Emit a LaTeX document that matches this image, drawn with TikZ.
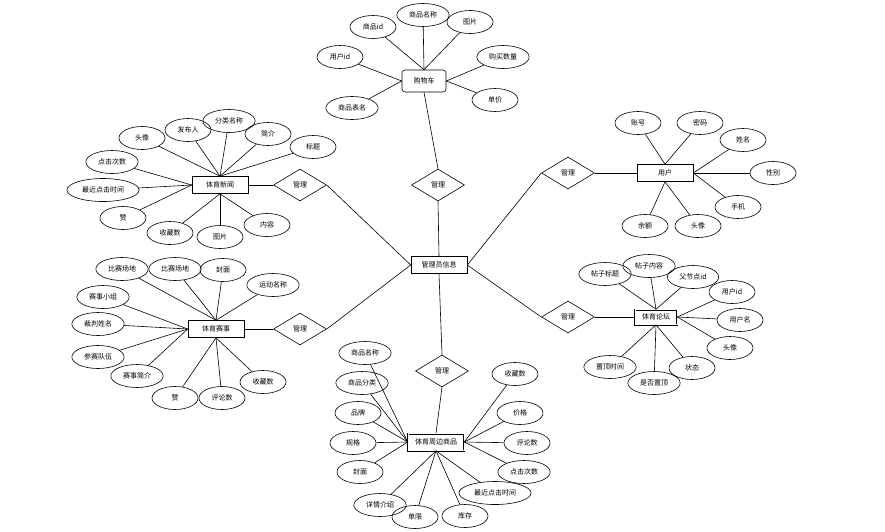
\documentclass[tikz,border=0pt]{standalone}
\usepackage{fontspec}
\newfontfamily\cjk{Noto Sans CJK SC}
\usetikzlibrary{shapes.geometric}

\tikzset{
  lbl/.style={font=\cjk\fontsize{7}{8}\selectfont},
  ent/.style={lbl, draw, rectangle, minimum width=56pt, minimum height=17pt, inner sep=1pt},
  attr/.style={lbl, draw, ellipse, minimum width=46pt, minimum height=23pt, inner xsep=4.5pt, inner ysep=1pt},
  rel/.style={lbl, draw, diamond, minimum width=53pt, minimum height=32pt, inner sep=0pt},
}

\begin{document}
\begin{tikzpicture}[x=1pt, y=-1pt, line width=0.6pt]
    \useasboundingbox (0,0) rectangle (885,531);
    % ---- entities and the central node
    \node[ent] (admin) at (439,265) {管理员信息};
    \node[ent, rounded corners=3pt, minimum width=44pt, minimum height=22pt] (cart) at (424,81) {购物车};
    \node[ent] (news) at (220,185) {体育新闻};
    \node[ent] (match) at (216,329) {体育赛事};
    \node[ent, double, double distance=0.8pt] (goods) at (436,442) {体育周边商品};
    \node[ent] (user) at (665,173) {用户};
    \node[ent, double, double distance=0.8pt, minimum width=42pt, minimum height=15pt] (forum) at (656,317) {体育论坛};
    % ---- relations
    \node[rel] (dcart) at (438,185) {管理};
    \node[rel] (dnews) at (300,185) {管理};
    \node[rel] (dmatch) at (300,329) {管理};
    \node[rel] (dgoods) at (442,371) {管理};
    \node[rel] (duser) at (568,173) {管理};
    \node[rel] (dforum) at (568,317) {管理};
    \draw (cart.south) -- (dcart.north);
    \draw (dcart.south) -- (admin.north);
    \draw (news.east) -- (dnews.west);
    \draw (dnews.east) -- (admin.west);
    \draw (match.east) -- (dmatch.west);
    \draw (dmatch.east) -- (admin.west);
    \draw (admin.south) -- (dgoods.north);
    \draw (dgoods.south) -- (goods.north);
    \draw (admin.east) -- (duser.west);
    \draw (duser.east) -- (user.west);
    \draw (admin.east) -- (dforum.west);
    \draw (dforum.east) -- (forum.west);
    % ---- cart attributes
    \node[attr] (c1) at (373,27) {商品id};
    \node[attr] (c2) at (423,15) {商品名称};
    \node[attr] (c3) at (470,22) {图片};
    \node[attr] (c4) at (340,57) {用户id};
    \node[attr] (c5) at (352,108) {商品表名};
    \node[attr] (c6) at (503,57) {购买数量};
    \node[attr] (c7) at (495,100) {单价};
    \foreach \a in {c1,c2,c3} \draw (cart.north) -- (\a);
    \foreach \a in {c4,c5} \draw (cart.west) -- (\a);
    \foreach \a in {c6,c7} \draw (cart.east) -- (\a);
    % ---- news attributes
    \node[attr] (n1) at (142,138) {头像};
    \node[attr] (n2) at (188,130) {发布人};
    \node[attr] (n3) at (229,121) {分类名称};
    \node[attr] (n4) at (268,134) {简介};
    \node[attr] (n5) at (313,147) {标题};
    \node[attr] (n6) at (112,162) {点击次数};
    \node[attr] (n7) at (103,190) {最近点击时间};
    \node[attr] (n8) at (123,218) {赞};
    \node[attr] (n9) at (170,233) {收藏数};
    \node[attr] (n10) at (220,237) {图片};
    \node[attr] (n11) at (267,225) {内容};
    \foreach \a in {n1,n2,n3,n4,n5} \draw (news.north) -- (\a);
    \foreach \a in {n6,n7,n8} \draw (news.west) -- (\a);
    \foreach \a in {n9,n10,n11} \draw (news.south) -- (\a);
    % ---- match attributes
    \node[attr] (m1) at (122,269) {比赛场地};
    \node[attr] (m2) at (175,269) {比赛场地};
    \node[attr] (m3) at (223,270) {封面};
    \node[attr] (m4) at (273,285) {运动名称};
    \node[attr] (m5) at (103,297) {赛事小组};
    \node[attr] (m6) at (98,324) {裁判姓名};
    \node[attr] (m7) at (98,357) {参赛队伍};
    \node[attr] (m8) at (137,376) {赛事简介};
    \node[attr] (m9) at (175,398) {赞};
    \node[attr] (m10) at (222,398) {评论数};
    \node[attr] (m11) at (263,382) {收藏数};
    \foreach \a in {m1,m2,m3,m4} \draw (match.north) -- (\a);
    \foreach \a in {m5,m6,m7,m8} \draw (match.west) -- (\a);
    \foreach \a in {m9,m10,m11} \draw (match.south) -- (\a);
    % ---- goods attributes
    \node[attr] (g1) at (365,353) {商品名称};
    \node[attr] (g2) at (362,383) {商品分类};
    \node[attr] (g3) at (358,413) {品牌};
    \node[attr] (g4) at (353,443) {规格};
    \node[attr] (g5) at (360,472) {封面};
    \node[attr] (g6) at (380,505) {详情介绍};
    \node[attr] (g7) at (415,517) {单限};
    \node[attr] (g8) at (465,516) {库存};
    \node[attr] (g9) at (495,493) {最近点击时间};
    \node[attr] (g10) at (524,472) {点击次数};
    \node[attr] (g11) at (527,443) {评论数};
    \node[attr] (g12) at (520,413) {价格};
    \node[attr] (g13) at (515,374) {收藏数};
    \foreach \a in {g1,g2,g3,g4,g5} \draw (goods.west) -- (\a);
    \foreach \a in {g6,g7,g8,g9} \draw (goods.south) -- (\a);
    \foreach \a in {g10,g11,g12,g13} \draw (goods.east) -- (\a);
    % ---- user attributes
    \node[attr] (u1) at (638,123) {账号};
    \node[attr] (u2) at (700,123) {密码};
    \node[attr] (u3) at (743,140) {姓名};
    \node[attr] (u4) at (773,173) {性别};
    \node[attr] (u5) at (738,207) {手机};
    \node[attr] (u6) at (698,226) {头像};
    \node[attr] (u7) at (645,226) {余额};
    \foreach \a in {u1,u2} \draw (user.north) -- (\a);
    \foreach \a in {u3,u4,u5} \draw (user.east) -- (\a);
    \foreach \a in {u6,u7} \draw (user.south) -- (\a);
    % ---- forum attributes
    \node[attr] (f1) at (605,274) {帖子标题};
    \node[attr] (f2) at (649,266) {帖子内容};
    \node[attr] (f3) at (693,277) {父节点id};
    \node[attr] (f4) at (732,292) {用户id};
    \node[attr] (f5) at (740,320) {用户名};
    \node[attr] (f6) at (730,348) {头像};
    \node[attr] (f7) at (692,368) {状态};
    \node[attr] (f8) at (654,383) {是否置顶};
    \node[attr] (f9) at (610,367) {置顶时间};
    \foreach \a in {f1,f2,f3} \draw (forum.north) -- (\a);
    \foreach \a in {f4,f5,f6} \draw (forum.east) -- (\a);
    \foreach \a in {f7,f8,f9} \draw (forum.south) -- (\a);
\end{tikzpicture}
\end{document}
